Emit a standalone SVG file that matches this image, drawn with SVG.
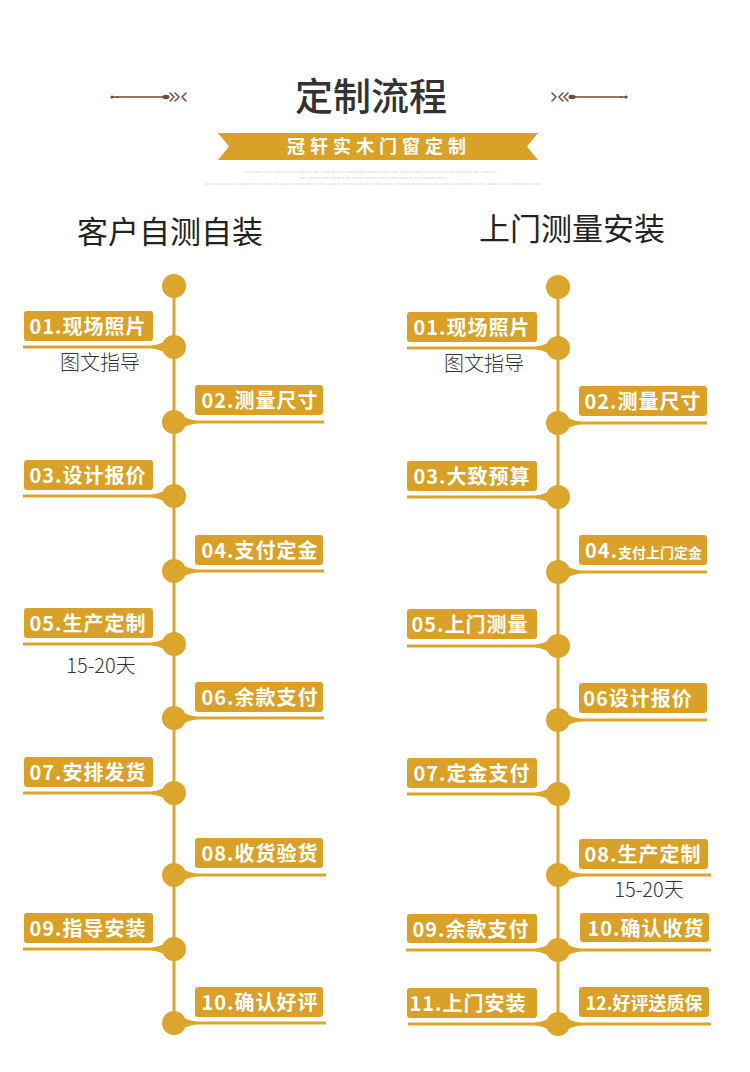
<svg xmlns="http://www.w3.org/2000/svg" xmlns:xlink="http://www.w3.org/1999/xlink" width="750" height="1072" viewBox="0 0 750 1072">
<style>
.ln{stroke:#DCA52B;stroke-width:3;fill:none}
.dot{fill:#DCA52B}
.box{fill:#D9A127}
.lbl{font-family:"Noto Sans CJK SC","Noto Sans",sans-serif;font-weight:bold;font-size:20px;fill:#fff;text-anchor:middle;letter-spacing:1px}
.sub{font-family:"Noto Sans CJK SC","Noto Sans",sans-serif;font-weight:300;font-size:20px;fill:#333;text-anchor:middle}
.head{font-family:"Noto Sans CJK SC",sans-serif;font-size:31px;fill:#222;text-anchor:middle}
.orn{stroke:#7A4638;fill:none;stroke-width:1.5;stroke-linecap:round}
.tiny{stroke:#d4d4d4;stroke-width:0.9;stroke-dasharray:5 1.2 2 1.2 8 1.2 3 1.2}
</style>
<defs>
<path id="fr" d="M0,-11 Q10,-3 22,-1.5 L22,1.5 Q10,3 0,11 Z" fill="#DCA52B"/>
<path id="fl" d="M0,-11 Q-10,-3 -22,-1.5 L-22,1.5 Q-10,3 0,11 Z" fill="#DCA52B"/>
</defs>

<g id="title">
<text x="371" y="110" font-family="'Noto Sans CJK SC',sans-serif" font-size="38" fill="#333" text-anchor="middle" font-weight="500">定制流程</text>
</g>
<g id="ornament-left">
<line class="orn" x1="112" y1="97" x2="164" y2="97"/>
<circle cx="112" cy="97" r="1.6" fill="#7A4638"/>
<circle cx="117" cy="97" r="1" fill="#7A4638"/>
<ellipse cx="166" cy="97" rx="3.5" ry="2.2" fill="#7A4638"/>
<path class="orn" d="M170,93 L174,97 L170,101 M175,93 L179,97 L175,101 M186,93 L182,97 L186,101"/>
</g>
<g id="ornament-right">
<line class="orn" x1="574" y1="97" x2="626" y2="97"/>
<circle cx="626" cy="97" r="1.6" fill="#7A4638"/>
<circle cx="621" cy="97" r="1" fill="#7A4638"/>
<ellipse cx="572" cy="97" rx="3.5" ry="2.2" fill="#7A4638"/>
<path class="orn" d="M568,93 L564,97 L568,101 M563,93 L559,97 L563,101 M552,93 L556,97 L552,101"/>
</g>
<g id="banner">
<polygon points="218,133 538,133 527,146.5 538,160 218,160 229,146.5" fill="#D9A127"/>
<text x="379" y="153" font-family="'Noto Sans CJK SC',sans-serif" font-size="18" font-weight="bold" fill="#fff" text-anchor="middle" letter-spacing="5">冠轩实木门窗定制</text>
</g>
<g id="fine-print">
<line class="tiny" x1="245" y1="172" x2="497" y2="172"/>
<line class="tiny" x1="300" y1="178" x2="447" y2="178"/>
<line class="tiny" x1="205" y1="184" x2="540" y2="184"/>
</g>

<g id="heading-left"><text class="head" x="170" y="243">客户自测自装</text></g>
<g id="heading-right"><text class="head" x="572" y="240">上门测量安装</text></g>

<g id="connectors">
<line class="ln" x1="174" y1="286" x2="174" y2="1023"/>
<line class="ln" x1="558" y1="287" x2="558" y2="1024"/>
<line class="ln" x1="23" y1="347" x2="174" y2="347"/>
<line class="ln" x1="174" y1="422" x2="324" y2="422"/>
<line class="ln" x1="23" y1="496" x2="174" y2="496"/>
<line class="ln" x1="174" y1="571" x2="324" y2="571"/>
<line class="ln" x1="23" y1="644" x2="174" y2="644"/>
<line class="ln" x1="174" y1="718" x2="324" y2="718"/>
<line class="ln" x1="23" y1="793" x2="174" y2="793"/>
<line class="ln" x1="174" y1="875" x2="326" y2="875"/>
<line class="ln" x1="23" y1="949" x2="174" y2="949"/>
<line class="ln" x1="174" y1="1023" x2="326" y2="1023"/>
<line class="ln" x1="407" y1="348" x2="558" y2="348"/>
<line class="ln" x1="558" y1="423" x2="707" y2="423"/>
<line class="ln" x1="407" y1="497" x2="558" y2="497"/>
<line class="ln" x1="558" y1="572" x2="707" y2="572"/>
<line class="ln" x1="407" y1="646" x2="558" y2="646"/>
<line class="ln" x1="558" y1="720" x2="707" y2="720"/>
<line class="ln" x1="407" y1="794" x2="558" y2="794"/>
<line class="ln" x1="558" y1="875" x2="711" y2="875"/>
<line class="ln" x1="406" y1="950" x2="711" y2="950"/>
<line class="ln" x1="408" y1="1024" x2="711" y2="1024"/>
<use href="#fl" x="174" y="347"/>
<use href="#fr" x="174" y="422"/>
<use href="#fl" x="174" y="496"/>
<use href="#fr" x="174" y="571"/>
<use href="#fl" x="174" y="644"/>
<use href="#fr" x="174" y="718"/>
<use href="#fl" x="174" y="793"/>
<use href="#fr" x="174" y="875"/>
<use href="#fl" x="174" y="949"/>
<use href="#fr" x="174" y="1023"/>
<use href="#fl" x="558" y="348"/>
<use href="#fr" x="558" y="423"/>
<use href="#fl" x="558" y="497"/>
<use href="#fr" x="558" y="572"/>
<use href="#fl" x="558" y="646"/>
<use href="#fr" x="558" y="720"/>
<use href="#fl" x="558" y="794"/>
<use href="#fr" x="558" y="875"/>
<use href="#fl" x="558" y="950"/>
<use href="#fr" x="558" y="950"/>
<use href="#fl" x="558" y="1024"/>
<use href="#fr" x="558" y="1024"/>
</g>

<g id="left-dots">
<circle class="dot" cx="174" cy="286" r="12"/>
<circle class="dot" cx="174" cy="347" r="12"/>
<circle class="dot" cx="174" cy="422" r="12"/>
<circle class="dot" cx="174" cy="496" r="12"/>
<circle class="dot" cx="174" cy="571" r="12"/>
<circle class="dot" cx="174" cy="644" r="12"/>
<circle class="dot" cx="174" cy="718" r="12"/>
<circle class="dot" cx="174" cy="793" r="12"/>
<circle class="dot" cx="174" cy="875" r="12"/>
<circle class="dot" cx="174" cy="949" r="12"/>
<circle class="dot" cx="174" cy="1023" r="12"/>
</g>
<g id="right-dots">
<circle class="dot" cx="558" cy="287" r="12"/>
<circle class="dot" cx="558" cy="348" r="12"/>
<circle class="dot" cx="558" cy="423" r="12"/>
<circle class="dot" cx="558" cy="497" r="12"/>
<circle class="dot" cx="558" cy="572" r="12"/>
<circle class="dot" cx="558" cy="646" r="12"/>
<circle class="dot" cx="558" cy="720" r="12"/>
<circle class="dot" cx="558" cy="794" r="12"/>
<circle class="dot" cx="558" cy="875" r="12"/>
<circle class="dot" cx="558" cy="950" r="12"/>
<circle class="dot" cx="558" cy="1024" r="12"/>
</g>

<g id="L01"><rect class="box" x="24" y="311" width="129" height="30" rx="3"/><text class="lbl" x="88" y="334">01.现场照片</text></g>
<g id="L01sub"><text class="sub" x="100" y="370">图文指导</text></g>
<g id="L02"><rect class="box" x="195" y="385" width="128" height="30" rx="3"/><text class="lbl" x="260" y="408">02.测量尺寸</text></g>
<g id="L03"><rect class="box" x="24" y="460" width="129" height="30" rx="3"/><text class="lbl" x="88" y="483">03.设计报价</text></g>
<g id="L04"><rect class="box" x="195" y="535" width="128" height="30" rx="3"/><text class="lbl" x="260" y="558">04.支付定金</text></g>
<g id="L05"><rect class="box" x="24" y="608" width="129" height="30" rx="3"/><text class="lbl" x="88" y="631">05.生产定制</text></g>
<g id="L05sub"><text class="sub" x="101" y="673">15-20天</text></g>
<g id="L06"><rect class="box" x="195" y="682" width="128" height="30" rx="3"/><text class="lbl" x="260" y="705">06.余款支付</text></g>
<g id="L07"><rect class="box" x="24" y="757" width="129" height="30" rx="3"/><text class="lbl" x="88" y="780">07.安排发货</text></g>
<g id="L08"><rect class="box" x="195" y="838" width="128" height="30" rx="3"/><text class="lbl" x="260" y="861">08.收货验货</text></g>
<g id="L09"><rect class="box" x="24" y="913" width="129" height="30" rx="3"/><text class="lbl" x="88" y="936">09.指导安装</text></g>
<g id="L10"><rect class="box" x="195" y="987" width="128" height="30" rx="3"/><text class="lbl" x="260" y="1010">10.确认好评</text></g>

<g id="R01"><rect class="box" x="407" y="312" width="130" height="30" rx="3"/><text class="lbl" x="472" y="335">01.现场照片</text></g>
<g id="R01sub"><text class="sub" x="484" y="371">图文指导</text></g>
<g id="R02"><rect class="box" x="579" y="386" width="128" height="30" rx="3"/><text class="lbl" x="643" y="409">02.测量尺寸</text></g>
<g id="R03"><rect class="box" x="407" y="461" width="130" height="30" rx="3"/><text class="lbl" x="472" y="484">03.大致预算</text></g>
<g id="R04"><rect class="box" x="579" y="535" width="128" height="30" rx="3"/><text x="585" y="558" font-family="'Noto Sans CJK SC',sans-serif" font-weight="bold" fill="#fff"><tspan font-size="20" letter-spacing="1">04.</tspan><tspan font-size="14">支付上门定金</tspan></text></g>
<g id="R05"><rect class="box" x="407" y="609" width="130" height="30" rx="3"/><text class="lbl" x="470" y="632">05.上门测量</text></g>
<g id="R06"><rect class="box" x="579" y="683" width="128" height="30" rx="3"/><text class="lbl" x="638" y="706">06设计报价</text></g>
<g id="R07"><rect class="box" x="407" y="758" width="130" height="30" rx="3"/><text class="lbl" x="472" y="781">07.定金支付</text></g>
<g id="R08"><rect class="box" x="579" y="839" width="129" height="30" rx="3"/><text class="lbl" x="643" y="862">08.生产定制</text></g>
<g id="R08sub"><text class="sub" x="649" y="897">15-20天</text></g>
<g id="R09"><rect class="box" x="407" y="914" width="130" height="29" rx="3"/><text class="lbl" x="471" y="937">09.余款支付</text></g>
<g id="R10"><rect class="box" x="580" y="913" width="129" height="29" rx="3"/><text class="lbl" x="646" y="936">10.确认收货</text></g>
<g id="R11"><rect class="box" x="407" y="988" width="130" height="30" rx="3"/><text class="lbl" x="468" y="1011">11.上门安装</text></g>
<g id="R12"><rect class="box" x="579" y="987" width="130" height="30" rx="3"/><text class="lbl" x="644" y="1010" style="font-size:18px;letter-spacing:0">12.好评送质保</text></g>
</svg>
